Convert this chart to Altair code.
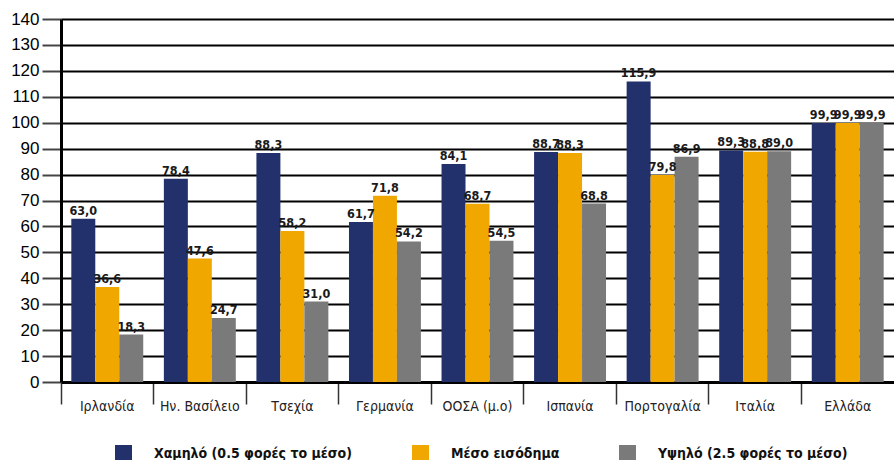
import altair as alt
import pandas as pd

countries = ["Ιρλανδία", "Ην. Βασίλειο", "Τσεχία", "Γερμανία", "ΟΟΣΑ (μ.ο)",
             "Ισπανία", "Πορτογαλία", "Ιταλία", "Ελλάδα"]
series = ["Χαμηλό (0.5 φορές το μέσο)", "Μέσο εισόδημα", "Υψηλό (2.5 φορές το μέσο)"]
low = [63.0, 78.4, 88.3, 61.7, 84.1, 88.7, 115.9, 89.3, 99.9]
mid = [36.6, 47.6, 58.2, 71.8, 68.7, 88.3, 79.8, 88.8, 99.9]
high = [18.3, 24.7, 31.0, 54.2, 54.5, 68.8, 86.9, 89.0, 99.9]
y_ticks = list(range(0, 141, 10))
colors = ["#22306C", "#F0A800", "#7A7A7A"]

rows = []
for s, vals in zip(series, [low, mid, high]):
    for c, v in zip(countries, vals):
        rows.append({"country": c, "series": s, "value": v})
df = pd.DataFrame(rows)

NARROW = "DejaVu Sans Condensed, Liberation Sans Narrow, sans-serif"

x = alt.X("country:N", sort=countries,
          scale=alt.Scale(paddingInner=0, paddingOuter=0),
          axis=alt.Axis(title=None, bandPosition=0, labelAngle=0,
                        tickSize=22, tickColor="#333333", tickWidth=1.5,
                        domainColor="black", domainWidth=3,
                        labelPadding=-5, labelFontSize=14, labelFont=NARROW,
                        labelColor="#222222"))
xo = alt.XOffset("series:N", sort=series,
                 scale=alt.Scale(paddingInner=0, paddingOuter=0.43))
y = alt.Y("value:Q", scale=alt.Scale(domain=[0, 140], nice=False),
          axis=alt.Axis(title=None, values=y_ticks, grid=True, gridColor="black",
                        gridWidth=2, tickSize=19, tickColor="#444444", tickWidth=2,
                        domainColor="black", domainWidth=3, labelFontSize=17,
                        labelOverlap=False, labelPadding=3,
                        labelFont="Liberation Sans, Arial, sans-serif",
                        labelColor="black"))

bars = alt.Chart(df).mark_bar().encode(
    x=x, xOffset=xo, y=y,
    color=alt.Color("series:N", sort=series,
                    scale=alt.Scale(domain=series, range=colors),
                    legend=alt.Legend(title=None, orient="none", legendX=54, legendY=426,
                                      direction="horizontal", columns=3, columnPadding=59,
                                      symbolType="square", symbolSize=289,
                                      symbolStrokeWidth=0, symbolOpacity=1,
                                      labelFont=NARROW, labelFontSize=14,
                                      labelFontWeight="bold", labelColor="#111111",
                                      labelOffset=22, labelLimit=400, padding=0)),
)

labels = alt.Chart(df).transform_calculate(
    lab="replace(format(datum.value, '.1f'), '.', ',')"
).mark_text(baseline="bottom", dy=-1, fontWeight="bold", fontSize=12.5,
            font=NARROW, color="#1a1a1a").encode(
    x=x, xOffset=xo, y=y, text="lab:N")

chart = alt.layer(bars, labels).properties(
    width=833, height=363,
    autosize=alt.AutoSizeParams(type="none"),
    padding={"left": 61, "top": 19, "right": 0, "bottom": 78},
).configure_view(fill="#DCEEFB", stroke=None).configure(background="white")

chart.save("out.html", embed_options={"renderer": "svg", "actions": False})
